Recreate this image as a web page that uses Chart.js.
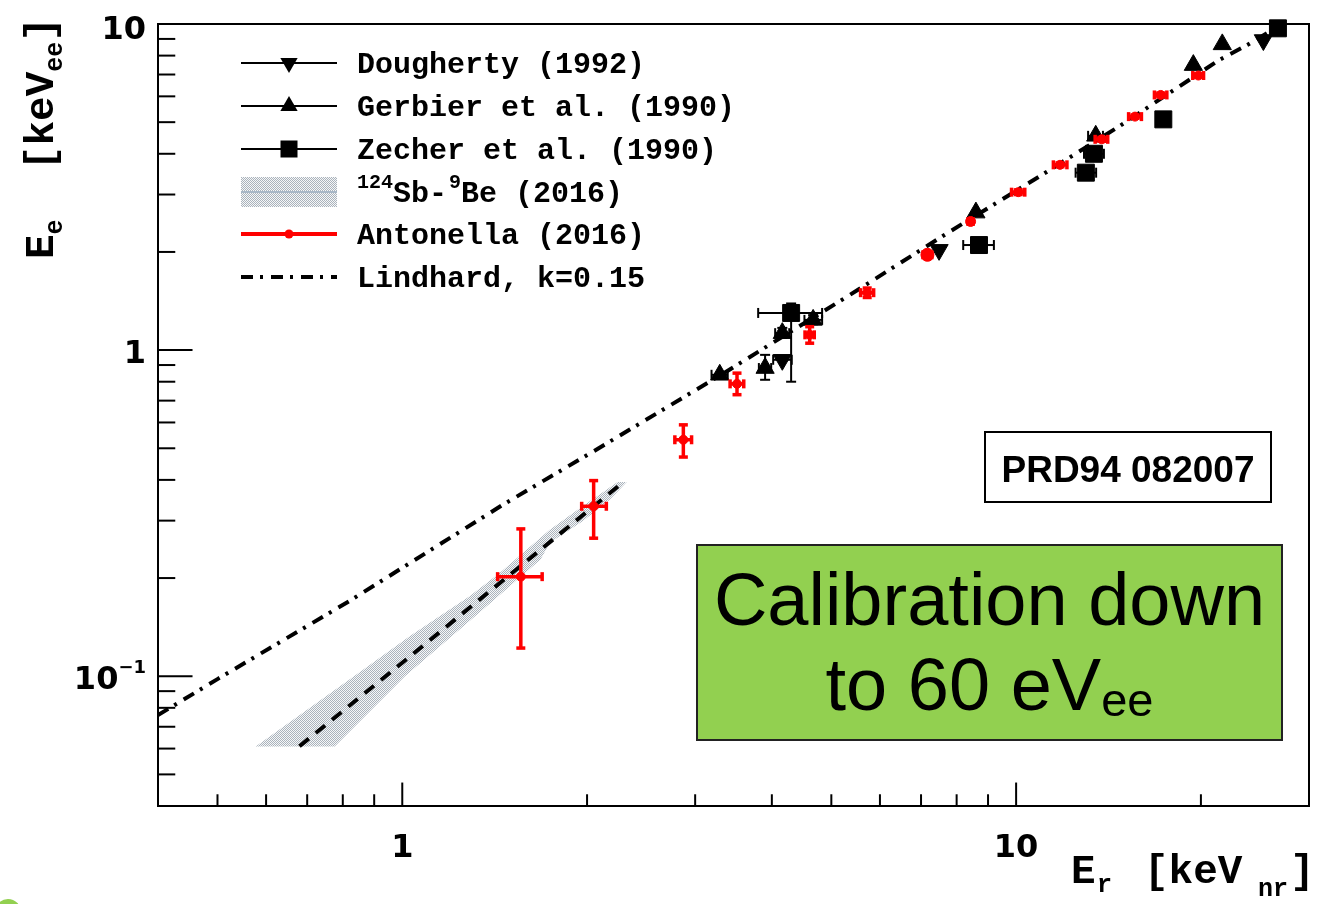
<!DOCTYPE html>
<html><head><meta charset="utf-8">
<script src="https://cdn.jsdelivr.net/npm/chart.js@4.4.1/dist/chart.umd.min.js"></script>
<style>html,body{margin:0;padding:0;background:#fff;overflow:hidden}canvas{display:block}</style>
</head><body>
<canvas id="c" width="1324" height="904"></canvas>
<script>
// ---------------- data ----------------
const lindhardX = [0.40, 0.50, 0.82, 1.0, 1.46, 2.07, 3.375, 5.36, 7.8, 11.0, 14.76, 21.4, 23.8, 27.0];
const lindhardY = [0.076, 0.098, 0.170, 0.215, 0.336, 0.495, 0.86, 1.477, 2.31, 3.44, 4.87, 7.75, 8.62, 9.95];

const sbbeBandX = [0.577, 0.852, 1.028, 1.150, 1.287, 1.441, 1.739, 1.967, 2.243, 2.321, 2.177, 1.967, 1.739, 1.680, 1.352, 1.009, 0.776];
const sbbeBandY = [0.0609, 0.1028, 0.1326, 0.1527, 0.1758, 0.2073, 0.2814, 0.3318, 0.394, 0.394, 0.3478, 0.2985, 0.2567, 0.2278, 0.160, 0.0998, 0.0609];
const sbbeLineX = [0.68, 1.0, 1.56, 2.28];
const sbbeLineY = [0.061, 0.110, 0.218, 0.391];

const antonellaX   = [1.56, 2.05, 2.87, 3.51, 4.61, 5.72, 7.17, 8.43, 10.08, 11.79, 13.79, 15.62, 17.20, 19.81];
const antonellaY   = [0.202, 0.332, 0.531, 0.788, 1.114, 1.50, 1.96, 2.48, 3.05, 3.70, 4.43, 5.20, 6.06, 6.95];
const antonellaXLo = [1.43, 1.96, 2.78, 3.42, 4.53, 5.58, 7.05, 8.35, 9.83, 11.5, 13.45, 15.25, 16.8, 19.4];
const antonellaXHi = [1.69, 2.15, 2.96, 3.60, 4.69, 5.86, 7.29, 8.51, 10.33, 12.1, 14.1, 16.0, 17.6, 20.2];
const antonellaYLo = [0.122, 0.265, 0.470, 0.730, 1.05, 1.45, 1.93, 2.46, 3.00, 3.65, 4.37, 5.14, 5.98, 6.87];
const antonellaYHi = [0.283, 0.398, 0.590, 0.850, 1.18, 1.55, 1.99, 2.50, 3.10, 3.75, 4.49, 5.26, 6.14, 7.03];
const antonellaSize = [4.5, 4.5, 4.5, 4.5, 4.5, 4.5, 6.5, 5, 4.5, 4.5, 4.5, 4.5, 4.5, 4.5];

const doughertyX   = [4.16, 7.49, 25.28];
const doughertyY   = [0.934, 2.03, 8.93];
const doughertyXLo = [4.02, null, null];
const doughertyXHi = [4.31, null, null];
const doughertyYLo = [null, null, null];
const doughertyYHi = [null, null, null];

const gerbierX   = [3.29, 3.90, 4.16, 4.67, 8.60, 13.48, 19.44, 21.67];
const gerbierY   = [0.840, 0.881, 1.127, 1.238, 2.64, 4.54, 7.48, 8.66];
const gerbierXLo = [3.19, 3.81, 4.05, 4.52, null, 13.1, null, null];
const gerbierXHi = [3.39, 3.99, 4.27, 4.83, null, 13.85, null, null];
const gerbierYLo = [null, 0.811, 1.09, 1.20, null, null, null, null];
const gerbierYHi = [null, 0.967, 1.17, 1.28, null, null, null, null];

const zecherX   = [4.30, 8.70, 12.99, 13.39, 17.37, 26.7];
const zecherY   = [1.30, 2.10, 3.50, 4.00, 5.10, 9.70];
const zecherXLo = [3.80, 8.20, 12.5, 12.9, null, null];
const zecherXHi = [4.83, 9.20, 13.5, 13.9, null, null];
const zecherYLo = [0.80, null, null, null, null, null];
const zecherYHi = [1.39, null, null, null, null, null];

const xMajorTicks = [1, 10];
const xTickLabels = ['1', '10'];
const xMinorTicks = [0.5, 0.6, 0.7, 0.8, 0.9, 2, 3, 4, 5, 6, 7, 8, 9, 20];
const yMajorTicks = [10, 1, 0.1];
const yTickLabels = ['10', '1', '10|−1'];
const yMinorTicks = [0.05, 0.06, 0.07, 0.08, 0.09, 0.2, 0.3, 0.4, 0.5, 0.6, 0.7, 0.8, 0.9, 2, 3, 4, 5, 6, 7, 8, 9];

const legendLabels = ['Dougherty (1992)', 'Gerbier et al. (1990)', 'Zecher et al. (1990)', '124|Sb-|9|Be (2016)', 'Antonella (2016)', 'Lindhard, k=0.15'];

const zip = (xs, ys) => xs.map((v, i) => ({x: v, y: ys[i]}));

// ---------------- styles ----------------
const bandPattern = (() => {
  const c = document.createElement('canvas'); c.width = 2; c.height = 2;
  const g = c.getContext('2d');
  g.fillStyle = '#f6f7f8'; g.fillRect(0, 0, 2, 2);
  g.fillStyle = '#aab3bc'; g.fillRect(0, 0, 1, 1); g.fillRect(1, 1, 1, 1);
  return g.createPattern(c, 'repeat');
})();
const LINDHARD_DASH = [12, 7, 3, 8];
const CENTER_DASH = [12, 9];
const MONO = '"Liberation Mono", "Courier New", monospace';
const TICKFONT = '"DejaVu Sans", Verdana, sans-serif';
const SANS = '"Liberation Sans", Arial, sans-serif';

function seg(ctx, x1, y1, x2, y2) { ctx.beginPath(); ctx.moveTo(x1, y1); ctx.lineTo(x2, y2); ctx.stroke(); }

// ---------------- plugins ----------------
const errorBarPlugin = {
  id: 'errorBars',
  beforeDatasetDraw(chart, args) {
    const ds = chart.data.datasets[args.index];
    const eb = ds.errorBars; if (!eb) return;
    const {ctx, scales: {x, y}} = chart;
    ctx.save();
    ctx.strokeStyle = eb.color; ctx.lineWidth = eb.width; ctx.lineCap = 'butt';
    const c = eb.cap;
    ds.data.forEach((p, i) => {
      const px = x.getPixelForValue(p.x), py = y.getPixelForValue(p.y);
      if (eb.xLo[i] != null) {
        const x1 = x.getPixelForValue(eb.xLo[i]), x2 = x.getPixelForValue(eb.xHi[i]);
        seg(ctx, x1, py, x2, py); seg(ctx, x1, py - c, x1, py + c); seg(ctx, x2, py - c, x2, py + c);
      }
      if (eb.yLo[i] != null) {
        const y1 = y.getPixelForValue(eb.yLo[i]), y2 = y.getPixelForValue(eb.yHi[i]);
        seg(ctx, px, y1, px, y2); seg(ctx, px - c, y1, px + c, y1); seg(ctx, px - c, y2, px + c, y2);
      }
    });
    ctx.restore();
  }
};

const axesPlugin = {
  id: 'rootAxes',
  beforeDatasetsDraw(chart) {
    const {ctx, chartArea: a, scales: {x, y}} = chart;
    ctx.save();
    ctx.strokeStyle = '#000'; ctx.lineWidth = 2;
    const w = a.right - a.left, h = a.bottom - a.top;
    const yMaj = 0.03 * w, yMin = yMaj / 2, xMaj = 0.03 * h, xMin = xMaj / 2;
    yMinorTicks.forEach(v => { const p = y.getPixelForValue(v); seg(ctx, a.left, p, a.left + yMin, p); });
    yMajorTicks.forEach(v => { const p = y.getPixelForValue(v); seg(ctx, a.left, p, a.left + yMaj, p); });
    xMinorTicks.forEach(v => { const p = x.getPixelForValue(v); seg(ctx, p, a.bottom, p, a.bottom - xMin); });
    xMajorTicks.forEach(v => { const p = x.getPixelForValue(v); seg(ctx, p, a.bottom, p, a.bottom - xMaj); });
    ctx.strokeRect(a.left, a.top, w, h);

    // tick labels
    ctx.fillStyle = '#000';
    ctx.textBaseline = 'alphabetic';
    yMajorTicks.forEach((v, i) => {
      const p = y.getPixelForValue(v);
      const lab = yTickLabels[i];
      const base = p + (i === 0 ? 15 : 13);
      if (lab.includes('|')) {
        const [b, e] = lab.split('|');
        ctx.font = 'bold 18px ' + TICKFONT; ctx.textAlign = 'left';
        const ew = ctx.measureText(e).width;
        const right = a.left - 12;
        ctx.fillText(e, right - ew, base - 16);
        ctx.font = 'bold 32px ' + TICKFONT; ctx.textAlign = 'right';
        ctx.fillText(b, right - ew, base);
      } else {
        ctx.font = 'bold 32px ' + TICKFONT; ctx.textAlign = 'right';
        ctx.fillText(lab, a.left - 12, base);
      }
    });
    ctx.font = 'bold 32px ' + TICKFONT; ctx.textAlign = 'center';
    xMajorTicks.forEach((v, i) => {
      const p = x.getPixelForValue(v);
      ctx.fillText(xTickLabels[i], p, a.bottom + 51);
    });

    // axis titles
    ctx.textAlign = 'left';
    const big = 'bold 41px ' + MONO, small = 'bold 25px ' + MONO;
    // X title: explicit piece positions
    [['E', big, 1071, 0], ['r', small, 1097, 9], ['[keV', big, 1144, 0], ['nr', small, 1258, 13], [']', big, 1290, 0]]
      .forEach(([t, f, px, dy]) => { ctx.font = f; ctx.fillText(t, px, 883 + dy); });
    // Y title (rotated)
    ctx.save();
    ctx.translate(53, 259);
    ctx.rotate(-Math.PI / 2);
    let cx = 0;
    [['E', big, 0], ['e', small, 9], ['  [keV', big, 0], ['ee', small, 9], [']', big, 0]].forEach(([t, f, dy]) => {
      ctx.font = f; ctx.fillText(t, cx, dy); cx += ctx.measureText(t).width;
    });
    ctx.restore();
    ctx.restore();
  }
};

const overlayPlugin = {
  id: 'overlay',
  afterDraw(chart) {
    const {ctx} = chart;
    ctx.save();
    // legend
    const rows = [63, 106, 149, 192, 234, 277];
    const lx1 = 241, lx2 = 337, mx = 289;
    ctx.strokeStyle = '#000'; ctx.lineWidth = 2; ctx.setLineDash([]);
    [0, 1, 2].forEach(r => seg(ctx, lx1, rows[r], lx2, rows[r]));
    ctx.fillStyle = '#000';
    const tri = (cx, cy, r, down) => {
      ctx.beginPath();
      const s = down ? -1 : 1;
      ctx.moveTo(cx, cy - s * r);
      ctx.lineTo(cx + r * Math.sqrt(3) / 2, cy + s * r / 2);
      ctx.lineTo(cx - r * Math.sqrt(3) / 2, cy + s * r / 2);
      ctx.closePath(); ctx.fill();
    };
    tri(mx, rows[0], 10, true);
    tri(mx, rows[1], 10, false);
    ctx.fillRect(mx - 8.5, rows[2] - 8.5, 17, 17);
    // band sample
    ctx.fillStyle = bandPattern;
    ctx.fillRect(lx1, rows[3] - 15, lx2 - lx1, 30);
    ctx.strokeStyle = '#a9b8c7'; ctx.lineWidth = 2;
    seg(ctx, lx1, rows[3], lx2, rows[3]);
    // antonella
    ctx.strokeStyle = '#ff0000'; ctx.lineWidth = 4;
    seg(ctx, lx1, rows[4], lx2, rows[4]);
    ctx.fillStyle = '#ff0000';
    ctx.beginPath(); ctx.arc(mx, rows[4], 4.5, 0, Math.PI * 2); ctx.fill();
    // lindhard
    ctx.strokeStyle = '#000'; ctx.lineWidth = 4; ctx.setLineDash(LINDHARD_DASH);
    seg(ctx, lx1, rows[5], lx2, rows[5]);
    ctx.setLineDash([]);

    // legend text
    ctx.fillStyle = '#000'; ctx.textAlign = 'left'; ctx.textBaseline = 'alphabetic';
    const f30 = 'bold 30px ' + MONO, f20 = 'bold 20px ' + MONO;
    legendLabels.forEach((lab, i) => {
      const base = rows[i] + 10;
      if (lab.includes('|')) {
        const [s1, t1, s2, t2] = lab.split('|');
        let cx = 357;
        ctx.font = f20; ctx.fillText(s1, cx, base - 14); cx += ctx.measureText(s1).width;
        ctx.font = f30; ctx.fillText(t1, cx, base); cx += ctx.measureText(t1).width + 2;
        ctx.font = f20; ctx.fillText(s2, cx, base - 14); cx += ctx.measureText(s2).width;
        ctx.font = f30; ctx.fillText(t2, cx, base);
      } else {
        ctx.font = f30; ctx.fillText(lab, 357, base);
      }
    });

    // PRD box
    ctx.fillStyle = '#fff'; ctx.fillRect(985, 432, 286, 70);
    ctx.strokeStyle = '#000'; ctx.lineWidth = 2; ctx.strokeRect(985, 432, 286, 70);
    ctx.fillStyle = '#000'; ctx.font = 'bold 37px ' + SANS; ctx.textAlign = 'center';
    ctx.fillText('PRD94 082007', 1128, 482);

    // green box
    ctx.fillStyle = '#92d050'; ctx.fillRect(697, 545, 585, 195);
    ctx.strokeStyle = '#222'; ctx.lineWidth = 2; ctx.strokeRect(697, 545, 585, 195);
    ctx.fillStyle = '#000'; ctx.font = '74px ' + SANS; ctx.textAlign = 'center';
    ctx.fillText('Calibration down', 989.5, 625);
    ctx.textAlign = 'left';
    ctx.font = '74px ' + SANS; const w1 = ctx.measureText('to 60 eV').width;
    ctx.font = '47px ' + SANS; const w2 = ctx.measureText('ee').width;
    const sx = 989.5 - (w1 + w2) / 2;
    ctx.font = '74px ' + SANS; ctx.fillText('to 60 eV', sx, 710);
    ctx.font = '47px ' + SANS; ctx.fillText('ee', sx + w1, 716);

    // decorative green dot bottom-left (slide artifact)
    ctx.fillStyle = '#92d050';
    ctx.beginPath(); ctx.arc(8, 912, 13, 0, Math.PI * 2); ctx.fill();
    ctx.restore();
  }
};

// ---------------- chart ----------------
const markerDs = (label, xs, ys, xlo, xhi, ylo, yhi, style, radius, rotation, color, order, eb) => ({
  label, data: zip(xs, ys), showLine: false, order, clip: false,
  pointStyle: style, pointRadius: radius, pointRotation: rotation,
  pointBackgroundColor: color, pointBorderColor: color, pointBorderWidth: 1,
  errorBars: Object.assign({xLo: xlo, xHi: xhi, yLo: ylo, yHi: yhi}, eb)
});

new Chart(document.getElementById('c'), {
  type: 'scatter',
  data: {
    datasets: [
      { label: '124Sb-9Be band', data: zip(sbbeBandX, sbbeBandY), showLine: true, fill: 'shape',
        backgroundColor: bandPattern, borderColor: 'rgba(0,0,0,0)', borderWidth: 0, pointRadius: 0, order: 10 },
      { label: '124Sb-9Be (2016)', data: zip(sbbeLineX, sbbeLineY), showLine: true, fill: false,
        borderColor: '#000', borderWidth: 4, borderDash: CENTER_DASH, pointRadius: 0, order: 9 },
      { label: 'Lindhard, k=0.15', data: zip(lindhardX, lindhardY), showLine: true, fill: false,
        borderColor: '#000', borderWidth: 4, borderDash: LINDHARD_DASH, pointRadius: 0, order: 8 },
      markerDs('Dougherty (1992)', doughertyX, doughertyY, doughertyXLo, doughertyXHi, doughertyYLo, doughertyYHi,
        'triangle', 10.5, 180, '#000', 4, {color: '#000', width: 2, cap: 5}),
      markerDs('Gerbier et al. (1990)', gerbierX, gerbierY, gerbierXLo, gerbierXHi, gerbierYLo, gerbierYHi,
        'triangle', 10.5, 0, '#000', 3, {color: '#000', width: 2, cap: 5}),
      markerDs('Zecher et al. (1990)', zecherX, zecherY, zecherXLo, zecherXHi, zecherYLo, zecherYHi,
        'rect', 12, 0, '#000', 2, {color: '#000', width: 2, cap: 5}),
      markerDs('Antonella (2016)', antonellaX, antonellaY, antonellaXLo, antonellaXHi, antonellaYLo, antonellaYHi,
        'circle', antonellaSize, 0, '#ff0000', 1, {color: '#ff0000', width: 3.5, cap: 4.5})
    ]
  },
  options: {
    responsive: false, animation: false, events: [], devicePixelRatio: 1,
    layout: { padding: { left: 158, top: 24, right: 15, bottom: 98 } },
    plugins: { legend: { display: false }, tooltip: { enabled: false }, title: { display: false } },
    scales: {
      x: { type: 'logarithmic', min: 0.4, max: 30, display: false },
      y: { type: 'logarithmic', min: 0.04, max: 10, display: false }
    }
  },
  plugins: [axesPlugin, errorBarPlugin, overlayPlugin]
});
</script>
</body></html>
